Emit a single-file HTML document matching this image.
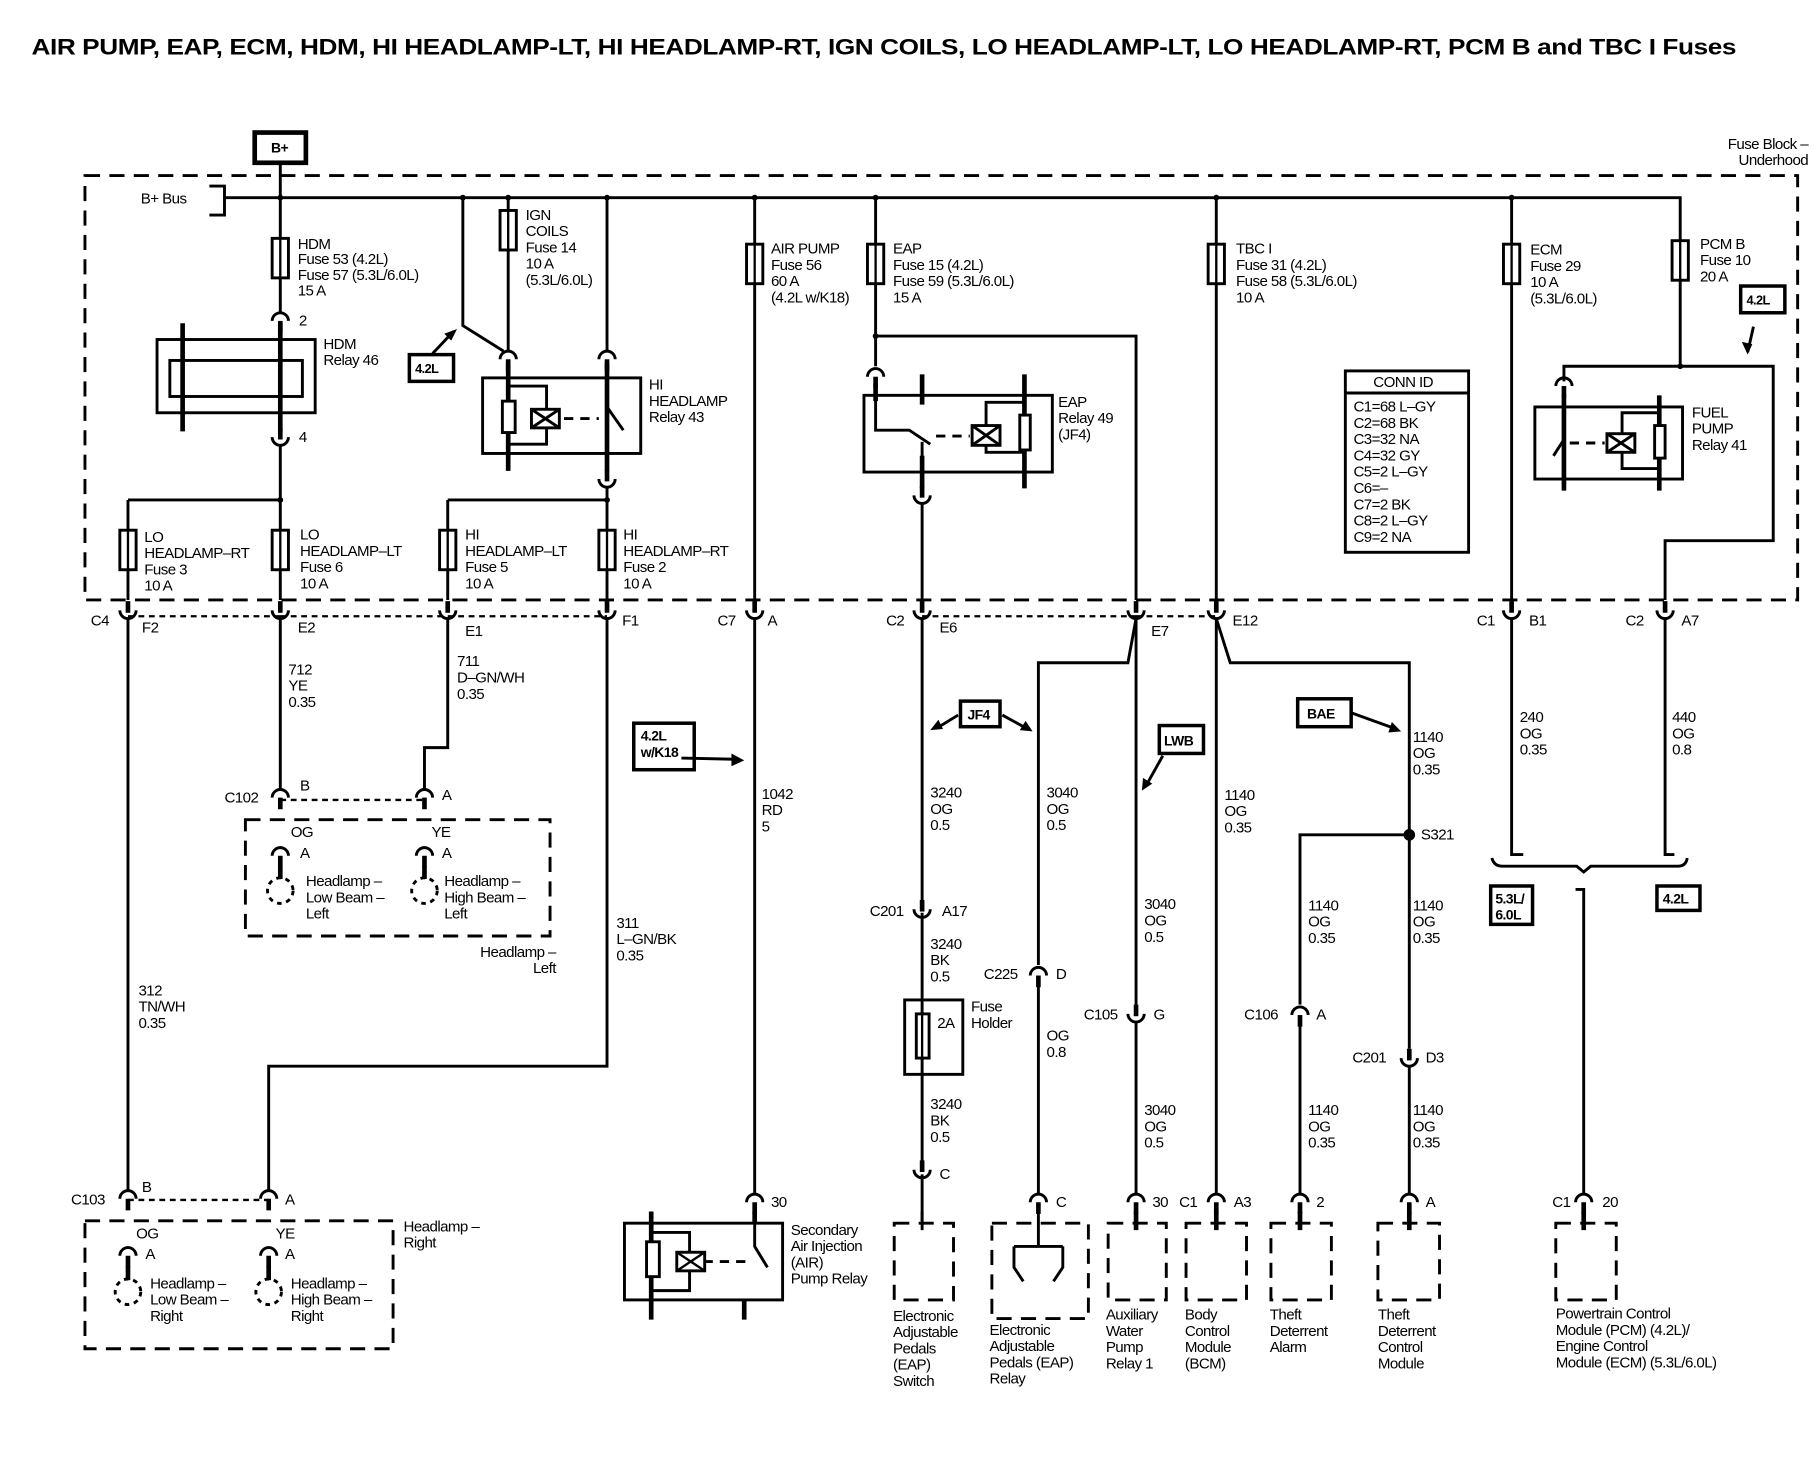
<!DOCTYPE html>
<html><head><meta charset="utf-8"><style>
html,body{margin:0;padding:0;background:#fff;}
svg{display:block}
text{font-family:"Liberation Sans",sans-serif;font-size:13px;letter-spacing:-0.5px;fill:#000}
.b{font-weight:bold}
</style></head><body>
<svg width="1814" height="1472" viewBox="0 0 1560 1266" xmlns="http://www.w3.org/2000/svg">
<defs>
<g id="cup"><rect x="-2" y="-14" width="4" height="10" fill="#000"/><path d="M-7,-6 A7,7 0 0 0 7,-6" fill="none" stroke="#000" stroke-width="2.5"/></g>
<g id="cap"><path d="M-7,4 A7,7 0 0 1 7,4" fill="none" stroke="#000" stroke-width="2.5"/><rect x="-2" y="4" width="4" height="10" fill="#000"/></g>
<g id="fuse"><rect x="-7" y="0" width="14" height="34" fill="#fff" stroke="#000" stroke-width="2.5"/><line x1="0" y1="0" x2="0" y2="34" stroke="#000" stroke-width="2"/></g>
</defs>
<g fill="none" stroke="#000" stroke-width="2.5">
<!-- title -->
</g>
<text x="27" y="47" class="b" style="font-size:19px;letter-spacing:-0.3px" textLength="1466" lengthAdjust="spacingAndGlyphs">AIR PUMP, EAP, ECM, HDM, HI HEADLAMP-LT, HI HEADLAMP-RT, IGN COILS, LO HEADLAMP-LT, LO HEADLAMP-RT, PCM B and TBC I Fuses</text>
<!-- B+ -->
<rect x="219" y="114" width="44" height="26" fill="none" stroke="#000" stroke-width="4"/>
<text x="233" y="131" class="b" style="font-size:12px">B+</text>
<text x="1555" y="128" text-anchor="end">Fuse Block –</text>
<text x="1555" y="142" text-anchor="end">Underhood</text>
<!-- fuse block dashed -->
<rect x="73" y="151" width="1473" height="365" fill="none" stroke="#000" stroke-width="2.5" stroke-dasharray="13,8"/>
<g fill="none" stroke="#000" stroke-width="2.5">
<path d="M241,140 V170"/>
<path d="M180,160 H193 V185 H180"/>
<path d="M193,170 H1445 V207"/>
<!-- HDM -->
<path d="M241,170 V270"/>
<path d="M241,285 V292 M241,355 V365"/>
<rect x="135" y="292" width="136" height="63"/>
<rect x="146" y="310" width="114" height="31"/>
<path d="M157,278 V371 M241,278 V371" stroke-width="4"/>
<path d="M241,382 V516"/>
<path d="M110,430 H241"/>
<path d="M110,430 V516"/>
<!-- IGN/HI relay -->
<path d="M398,170 V280 L433,302"/>
<path d="M437,170 V302"/>
<path d="M522,170 V302"/>
<rect x="415" y="325" width="136" height="65"/>
<path d="M437,312 V405 M522,312 V405" stroke-width="4"/>
<rect x="432" y="345" width="11" height="27" fill="#fff"/>
<path d="M437,332 H470 V382 H437"/>
<rect x="457" y="352" width="24" height="16" fill="#fff"/>
<path d="M457,352 L481,368 M481,352 L457,368"/>
<path d="M485,360 H515" stroke-dasharray="8,6"/>
<path d="M522,350 L536,370" stroke-width="2.5"/>
<path d="M522,418 V516"/>
<path d="M385,430 H522 M385,430 V516"/>
<!-- 4.2L arrow -->
<path d="M372,304 L390,285"/>
<!-- AIR -->
<path d="M649,170 V516"/>
<!-- EAP -->
<path d="M753,170 V315"/>
<path d="M753,289 H977 V516"/>
<rect x="743" y="340" width="162" height="66"/>
<path d="M753,330 V370 H782 L800,382 M793,380 V420" stroke-width="2.5"/>
<path d="M753,330 V345 M793,322 V348 M881,322 V420 M793,392 V420" stroke-width="4"/>
<path d="M881,346 H848 V389 H881"/>
<rect x="877" y="357" width="9" height="30" fill="#fff"/>
<rect x="836" y="366" width="24" height="17" fill="#fff"/>
<path d="M836,366 L860,383 M860,366 L836,383"/>
<path d="M805,375 H834" stroke-dasharray="8,6"/>
<path d="M793,432 V516"/>
<!-- TBC ECM -->
<path d="M1046,170 V516 M1300,170 V516"/>
<!-- PCM -->
<path d="M1445,241 V315"/>
<path d="M1345,328 V315 H1525 V465 H1432 V516"/>
<rect x="1320" y="350" width="127" height="62"/>
<path d="M1345,340 V422 M1427,340 V422" stroke-width="4"/>
<path d="M1345,378 L1336,392" />
<path d="M1427,355 H1395 V403 H1427"/>
<rect x="1423" y="366" width="9" height="28" fill="#fff"/>
<rect x="1382" y="373" width="24" height="16" fill="#fff"/>
<path d="M1382,373 L1406,389 M1406,373 L1382,389"/>
<path d="M1350,381 H1380" stroke-dasharray="8,6"/>
<path d="M1508,281 L1503,303"/>
<!-- CONN ID -->
<rect x="1157" y="319" width="106" height="156"/>
<path d="M1157,338 H1263"/>
</g>
<g fill="#000">
<circle cx="241" cy="170" r="2.5"/><circle cx="398" cy="170" r="2.5"/><circle cx="437" cy="170" r="2.5"/><circle cx="522" cy="170" r="2.5"/><circle cx="649" cy="170" r="2.5"/><circle cx="753" cy="170" r="2.5"/><circle cx="1046" cy="170" r="2.5"/><circle cx="1300" cy="170" r="2.5"/>
<circle cx="241" cy="430" r="2.5"/><circle cx="522" cy="430" r="2.5"/><circle cx="753" cy="289" r="2.5"/><circle cx="1445" cy="315" r="2.5"/>
<path d="M393,283 L382,287 L388,293 Z"/>
<path d="M1503,305 L1498,294 L1507,296 Z"/>
</g>
<!-- fuses -->
<use href="#fuse" x="241" y="205"/>
<use href="#fuse" x="437" y="181"/>
<use href="#fuse" x="649" y="210"/>
<use href="#fuse" x="753" y="210"/>
<use href="#fuse" x="1046" y="210"/>
<use href="#fuse" x="1300" y="210"/>
<use href="#fuse" x="1445" y="207"/>
<use href="#fuse" x="110" y="456"/>
<use href="#fuse" x="241" y="456"/>
<use href="#fuse" x="385" y="456"/>
<use href="#fuse" x="522" y="456"/>
<use href="#cap" x="241" y="272"/>
<use href="#cup" x="241" y="382"/>
<use href="#cap" x="437" y="305"/>
<use href="#cap" x="522" y="305"/>
<use href="#cup" x="522" y="418"/>
<use href="#cap" x="753" y="320"/>
<use href="#cup" x="793" y="432"/>
<use href="#cap" x="1345" y="328"/>
<rect x="352" y="305" width="38" height="23" fill="none" stroke="#000" stroke-width="3"/>
<text x="357" y="321" class="b" style="font-size:11px">4.2L</text>
<rect x="1497" y="246" width="38" height="23" fill="none" stroke="#000" stroke-width="3"/>
<text x="1502" y="262" class="b" style="font-size:11px">4.2L</text>
<!-- fuse labels -->
<text x="121" y="175">B+ Bus</text>
<text x="256" y="214">HDM</text><text x="256" y="227">Fuse 53 (4.2L)</text><text x="256" y="241">Fuse 57 (5.3L/6.0L)</text><text x="256" y="254">15 A</text>
<text x="257" y="280">2</text><text x="257" y="380">4</text>
<text x="278" y="300">HDM</text><text x="278" y="314">Relay 46</text>
<text x="452" y="189">IGN</text><text x="452" y="203">COILS</text><text x="452" y="217">Fuse 14</text><text x="452" y="231">10 A</text><text x="452" y="245">(5.3L/6.0L)</text>
<text x="558" y="335">HI</text><text x="558" y="349">HEADLAMP</text><text x="558" y="363">Relay 43</text>
<text x="663" y="218">AIR PUMP</text><text x="663" y="232">Fuse 56</text><text x="663" y="246">60 A</text><text x="663" y="260">(4.2L w/K18)</text>
<text x="768" y="218">EAP</text><text x="768" y="232">Fuse 15 (4.2L)</text><text x="768" y="246">Fuse 59 (5.3L/6.0L)</text><text x="768" y="260">15 A</text>
<text x="910" y="350">EAP</text><text x="910" y="364">Relay 49</text><text x="910" y="378">(JF4)</text>
<text x="1063" y="218">TBC I</text><text x="1063" y="232">Fuse 31 (4.2L)</text><text x="1063" y="246">Fuse 58 (5.3L/6.0L)</text><text x="1063" y="260">10 A</text>
<text x="1316" y="219">ECM</text><text x="1316" y="233">Fuse 29</text><text x="1316" y="247">10 A</text><text x="1316" y="261">(5.3L/6.0L)</text>
<text x="1462" y="214">PCM B</text><text x="1462" y="228">Fuse 10</text><text x="1462" y="242">20 A</text>
<text x="1455" y="359">FUEL</text><text x="1455" y="373">PUMP</text><text x="1455" y="387">Relay 41</text>
<text x="1181" y="333">CONN ID</text>
<text x="1164" y="354">C1=68 L–GY</text><text x="1164" y="368">C2=68 BK</text><text x="1164" y="382">C3=32 NA</text><text x="1164" y="396">C4=32 GY</text><text x="1164" y="410">C5=2 L–GY</text><text x="1164" y="424">C6=–</text><text x="1164" y="438">C7=2 BK</text><text x="1164" y="452">C8=2 L–GY</text><text x="1164" y="466">C9=2 NA</text>
<text x="124" y="466">LO</text><text x="124" y="480">HEADLAMP–RT</text><text x="124" y="494">Fuse 3</text><text x="124" y="508">10 A</text>
<text x="258" y="464">LO</text><text x="258" y="478">HEADLAMP–LT</text><text x="258" y="492">Fuse 6</text><text x="258" y="506">10 A</text>
<text x="400" y="464">HI</text><text x="400" y="478">HEADLAMP–LT</text><text x="400" y="492">Fuse 5</text><text x="400" y="506">10 A</text>
<text x="536" y="464">HI</text><text x="536" y="478">HEADLAMP–RT</text><text x="536" y="492">Fuse 2</text><text x="536" y="506">10 A</text>
<!-- bottom connectors row -->
<g fill="none" stroke="#000" stroke-width="2.5">
<path d="M110,530 H241 M241,530 H385 M385,530 H522" stroke-dasharray="5,4" stroke-width="2"/>
<path d="M793,530 H977 M977,530 H1046" stroke-dasharray="5,4" stroke-width="2"/>
</g>
<use href="#cup" x="110" y="531"/><use href="#cup" x="241" y="531"/><use href="#cup" x="385" y="531"/><use href="#cup" x="522" y="531"/>
<use href="#cup" x="649" y="531"/><use href="#cup" x="793" y="531"/><use href="#cup" x="977" y="531"/><use href="#cup" x="1046" y="531"/>
<use href="#cup" x="1300" y="531"/><use href="#cup" x="1432" y="531"/>
<text x="78" y="538">C4</text><text x="122" y="544">F2</text>
<text x="256" y="544">E2</text><text x="400" y="547">E1</text><text x="535" y="538">F1</text>
<text x="617" y="538">C7</text><text x="660" y="538">A</text>
<text x="762" y="538">C2</text><text x="808" y="544">E6</text>
<text x="990" y="547">E7</text><text x="1060" y="538">E12</text>
<text x="1270" y="538">C1</text><text x="1315" y="538">B1</text>
<text x="1398" y="538">C2</text><text x="1446" y="538">A7</text>
<!-- lower wires -->
<g fill="none" stroke="#000" stroke-width="2.5">
<path d="M110,532 V1023"/>
<path d="M241,532 V678"/>
<path d="M385,532 V643 H365 V678"/>
<path d="M522,532 V917 H231 V1023"/>
<path d="M649,532 V1027"/>
<path d="M793,532 V775 M793,785 V1000 M793,1010 V1050"/>
<rect x="778" y="860" width="50" height="64"/>
<path d="M977,532 L970,570 H893 V830 M893,848 V1028"/>
<path d="M977,532 V864 M977,878 V1028"/>
<path d="M1046,532 V1028"/>
<path d="M1046,532 L1058,570 H1212 V902 M1212,918 V1028"/>
<path d="M1212,718 H1118 V864 M1118,880 V1028"/>
<path d="M1300,532 V735 H1310 M1432,532 V735 H1440"/>
<path d="M1283,738 Q1285,745 1292,745 H1356 L1362,750 L1368,745 H1443 Q1450,745 1451,738"/>
<path d="M1355,765 H1362 V1028"/>
<path d="M241,688 H365 M110,1032 H231" stroke-dasharray="5,4" stroke-width="2"/>
</g>
<rect x="788" y="872" width="11" height="38" fill="#fff" stroke="#000" stroke-width="2.5"/>
<path d="M793,860 V924" stroke="#000" stroke-width="2"/>
<circle cx="1212" cy="718" r="5" fill="#000"/>
<use href="#cap" x="241" y="682"/><use href="#cap" x="365" y="682"/>
<use href="#cap" x="241" y="732"/><use href="#cap" x="365" y="732"/>
<use href="#cap" x="110" y="1027"/><use href="#cap" x="231" y="1027"/>
<use href="#cap" x="110" y="1076"/><use href="#cap" x="231" y="1076"/>
<use href="#cap" x="649" y="1030"/>
<use href="#cup" x="793" y="788"/><use href="#cup" x="793" y="1012"/>
<use href="#cap" x="893" y="835"/><use href="#cup" x="977" y="878"/>
<use href="#cap" x="1118" y="869"/><use href="#cup" x="1212" y="916"/>
<use href="#cap" x="893" y="1030"/><use href="#cap" x="977" y="1030"/><use href="#cap" x="1046" y="1030"/><use href="#cap" x="1118" y="1030"/><use href="#cap" x="1212" y="1030"/><use href="#cap" x="1362" y="1030"/>
<g fill="none" stroke="#000" stroke-width="2.5">
<rect x="211" y="705" width="262" height="100" stroke-dasharray="13,8"/>
<rect x="73" y="1050" width="265" height="110" stroke-dasharray="13,8"/>
<circle cx="241" cy="766" r="11" stroke-dasharray="4,4"/>
<circle cx="365" cy="766" r="11" stroke-dasharray="4,4"/>
<circle cx="110" cy="1111" r="11" stroke-dasharray="4,4"/>
<circle cx="231" cy="1111" r="11" stroke-dasharray="4,4"/>
<path d="M241,745 V756 M365,745 V756 M110,1089 V1101 M231,1089 V1101" stroke-width="4"/>
<rect x="537" y="1052" width="136" height="66"/>
<path d="M560,1042 V1135 M649,1042 V1052 M640,1118 V1135" stroke-width="4"/>
<path d="M560,1060 H593 V1110 H560"/>
<path d="M649,1052 V1072 L660,1090"/>
<path d="M605,1085 H645" stroke-dasharray="8,6"/>
<rect x="769" y="1052" width="51" height="66" stroke-dasharray="13,8"/>
<rect x="853" y="1052" width="83" height="82" stroke-dasharray="13,8"/>
<path d="M893,1042 V1072 M872,1072 H914 M872,1072 V1090 L880,1102 M914,1072 V1090 L906,1102"/>
<rect x="953" y="1052" width="50" height="66" stroke-dasharray="13,8"/>
<rect x="1020" y="1052" width="52" height="66" stroke-dasharray="13,8"/>
<rect x="1093" y="1052" width="52" height="66" stroke-dasharray="13,8"/>
<rect x="1185" y="1052" width="53" height="66" stroke-dasharray="13,8"/>
<rect x="1338" y="1052" width="52" height="66" stroke-dasharray="13,8"/>
<path d="M793,1042 V1058"/>
<path d="M977,1042 V1058 M1046,1042 V1058 M1118,1042 V1058 M1212,1042 V1058 M1362,1042 V1058" stroke-width="4"/>
<path d="M586,652 L632,653 M806,626 L824,615 M862,615 L882,626 M1000,650 L986,675 M1162,613 L1198,626"/>
</g>
<rect x="556" y="1068" width="11" height="30" fill="#fff" stroke="#000" stroke-width="2.5"/>
<rect x="582" y="1077" width="24" height="16" fill="#fff" stroke="#000" stroke-width="2.5"/>
<path d="M582,1077 L606,1093 M606,1077 L582,1093" stroke="#000" stroke-width="2"/>
<g fill="#000">
<path d="M640,654 L629,648 L629,659 Z"/>
<path d="M800,628 L807,619 L811,627 Z"/>
<path d="M888,629 L877,628 L882,620 Z"/>
<path d="M982,680 L983,669 L991,674 Z"/>
<path d="M1205,629 L1194,630 L1197,621 Z"/>
</g>
<g fill="none" stroke="#000" stroke-width="3">
<rect x="545" y="622" width="52" height="40"/>
<rect x="826" y="603" width="34" height="22"/>
<rect x="997" y="624" width="38" height="24"/>
<rect x="1116" y="601" width="46" height="24"/>
<rect x="1282" y="762" width="36" height="33"/>
<rect x="1425" y="762" width="37" height="21"/>
</g>
<text x="551" y="637" class="b" style="font-size:12px">4.2L</text><text x="551" y="651" class="b" style="font-size:12px">w/K18</text>
<text x="832" y="619" class="b" style="font-size:12px">JF4</text>
<text x="1001" y="641" class="b" style="font-size:12px">LWB</text>
<text x="1124" y="618" class="b" style="font-size:12px">BAE</text>
<text x="1286" y="777" class="b" style="font-size:12px">5.3L/</text><text x="1286" y="791" class="b" style="font-size:12px">6.0L</text>
<text x="1430" y="777" class="b" style="font-size:12px">4.2L</text>
<!-- lower labels -->
<text x="248" y="580">712</text><text x="248" y="594">YE</text><text x="248" y="608">0.35</text>
<text x="393" y="573">711</text><text x="393" y="587">D–GN/WH</text><text x="393" y="601">0.35</text>
<text x="193" y="690">C102</text><text x="258" y="680">B</text><text x="380" y="688">A</text>
<text x="250" y="720">OG</text><text x="371" y="720">YE</text>
<text x="258" y="738">A</text><text x="380" y="738">A</text>
<text x="263" y="762">Headlamp –</text><text x="263" y="776">Low Beam –</text><text x="263" y="790">Left</text>
<text x="382" y="762">Headlamp –</text><text x="382" y="776">High Beam –</text><text x="382" y="790">Left</text>
<text x="478" y="823" text-anchor="end">Headlamp –</text><text x="478" y="837" text-anchor="end">Left</text>
<text x="530" y="798">311</text><text x="530" y="812">L–GN/BK</text><text x="530" y="826">0.35</text>
<text x="119" y="856">312</text><text x="119" y="870">TN/WH</text><text x="119" y="884">0.35</text>
<text x="61" y="1036">C103</text><text x="122" y="1025">B</text><text x="245" y="1036">A</text>
<text x="117" y="1065">OG</text><text x="237" y="1065">YE</text>
<text x="125" y="1083">A</text><text x="245" y="1083">A</text>
<text x="129" y="1108">Headlamp –</text><text x="129" y="1122">Low Beam –</text><text x="129" y="1136">Right</text>
<text x="250" y="1108">Headlamp –</text><text x="250" y="1122">High Beam –</text><text x="250" y="1136">Right</text>
<text x="347" y="1059">Headlamp –</text><text x="347" y="1073">Right</text>
<text x="655" y="687">1042</text><text x="655" y="701">RD</text><text x="655" y="715">5</text>
<text x="663" y="1038">30</text>
<text x="680" y="1062">Secondary</text><text x="680" y="1076">Air Injection</text><text x="680" y="1090">(AIR)</text><text x="680" y="1104">Pump Relay</text>
<text x="800" y="686">3240</text><text x="800" y="700">OG</text><text x="800" y="714">0.5</text>
<text x="748" y="788">C201</text><text x="810" y="788">A17</text>
<text x="800" y="816">3240</text><text x="800" y="830">BK</text><text x="800" y="844">0.5</text>
<text x="806" y="884">2A</text><text x="835" y="870">Fuse</text><text x="835" y="884">Holder</text>
<text x="800" y="954">3240</text><text x="800" y="968">BK</text><text x="800" y="982">0.5</text>
<text x="808" y="1014">C</text>
<text x="900" y="686">3040</text><text x="900" y="700">OG</text><text x="900" y="714">0.5</text>
<text x="846" y="842">C225</text><text x="908" y="842">D</text>
<text x="900" y="895">OG</text><text x="900" y="909">0.8</text>
<text x="908" y="1038">C</text>
<text x="984" y="782">3040</text><text x="984" y="796">OG</text><text x="984" y="810">0.5</text>
<text x="932" y="877">C105</text><text x="992" y="877">G</text>
<text x="984" y="959">3040</text><text x="984" y="973">OG</text><text x="984" y="987">0.5</text>
<text x="991" y="1038">30</text><text x="1014" y="1038">C1</text><text x="1061" y="1038">A3</text>
<text x="1053" y="688">1140</text><text x="1053" y="702">OG</text><text x="1053" y="716">0.35</text>
<text x="1215" y="638">1140</text><text x="1215" y="652">OG</text><text x="1215" y="666">0.35</text>
<text x="1222" y="722">S321</text>
<text x="1125" y="783">1140</text><text x="1125" y="797">OG</text><text x="1125" y="811">0.35</text>
<text x="1215" y="783">1140</text><text x="1215" y="797">OG</text><text x="1215" y="811">0.35</text>
<text x="1070" y="877">C106</text><text x="1132" y="877">A</text>
<text x="1163" y="914">C201</text><text x="1226" y="914">D3</text>
<text x="1125" y="959">1140</text><text x="1125" y="973">OG</text><text x="1125" y="987">0.35</text>
<text x="1215" y="959">1140</text><text x="1215" y="973">OG</text><text x="1215" y="987">0.35</text>
<text x="1132" y="1038">2</text><text x="1226" y="1038">A</text>
<text x="1307" y="621">240</text><text x="1307" y="635">OG</text><text x="1307" y="649">0.35</text>
<text x="1438" y="621">440</text><text x="1438" y="635">OG</text><text x="1438" y="649">0.8</text>
<text x="1335" y="1038">C1</text><text x="1378" y="1038">20</text>
<text x="768" y="1136">Electronic</text><text x="768" y="1150">Adjustable</text><text x="768" y="1164">Pedals</text><text x="768" y="1178">(EAP)</text><text x="768" y="1192">Switch</text>
<text x="851" y="1148">Electronic</text><text x="851" y="1162">Adjustable</text><text x="851" y="1176">Pedals (EAP)</text><text x="851" y="1190">Relay</text>
<text x="951" y="1135">Auxiliary</text><text x="951" y="1149">Water</text><text x="951" y="1163">Pump</text><text x="951" y="1177">Relay 1</text>
<text x="1019" y="1135">Body</text><text x="1019" y="1149">Control</text><text x="1019" y="1163">Module</text><text x="1019" y="1177">(BCM)</text>
<text x="1092" y="1135">Theft</text><text x="1092" y="1149">Deterrent</text><text x="1092" y="1163">Alarm</text>
<text x="1185" y="1135">Theft</text><text x="1185" y="1149">Deterrent</text><text x="1185" y="1163">Control</text><text x="1185" y="1177">Module</text>
<text x="1338" y="1134">Powertrain Control</text><text x="1338" y="1148">Module (PCM) (4.2L)/</text><text x="1338" y="1162">Engine Control</text><text x="1338" y="1176">Module (ECM) (5.3L/6.0L)</text>
</svg>
</body></html>
